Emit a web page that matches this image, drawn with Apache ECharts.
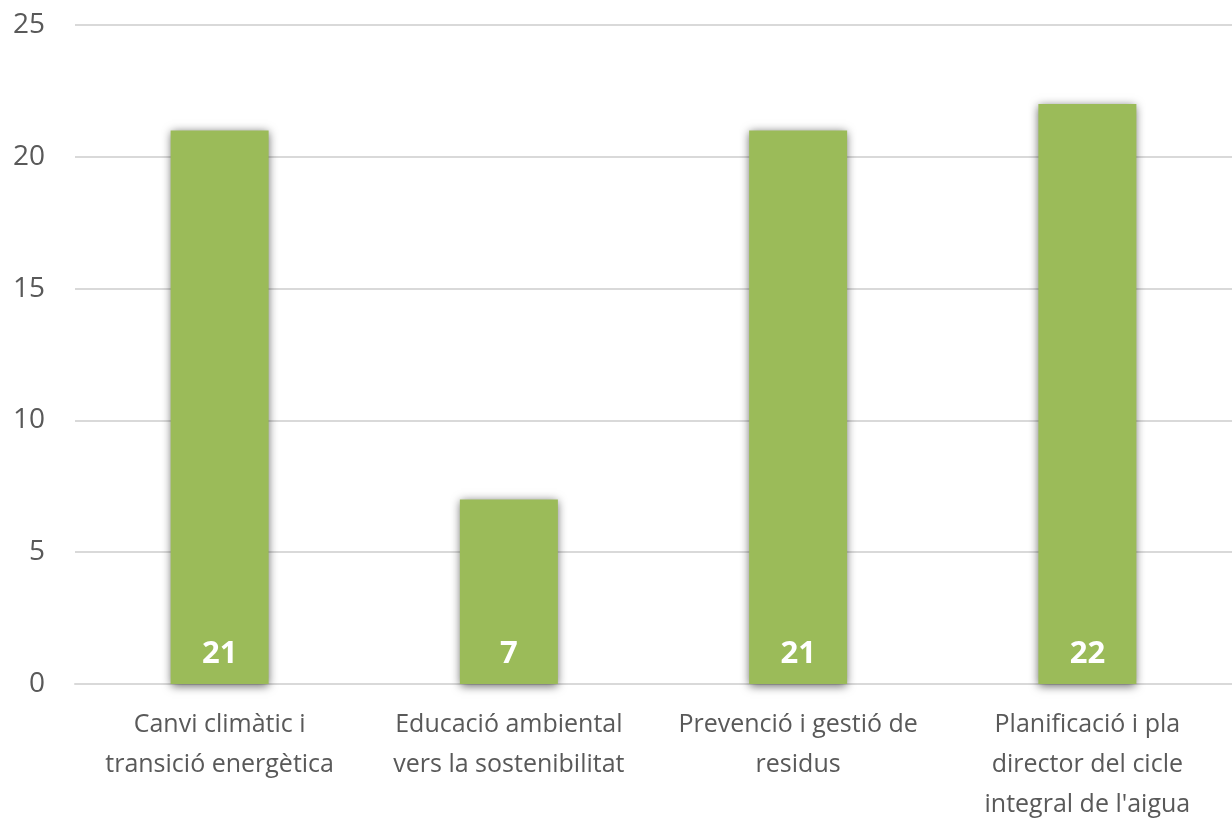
<!DOCTYPE html>
<html>
<head>
<meta charset="utf-8">
<script src="https://cdn.jsdelivr.net/npm/echarts@6/dist/echarts.min.js"></script>
<style>
html,body{margin:0;padding:0;background:#fff;overflow:hidden;}
#chart{width:100vw;height:100vh;}
</style>
</head>
<body>
<div id="chart"></div>
<script>
const categories = [
  "Canvi climàtic i\ntransició energètica",
  "Educació ambiental\nvers la sostenibilitat",
  "Prevenció i gestió de\nresidus",
  "Planificació i pla\ndirector del cicle\nintegral de l'aigua"
];
const values = [21, 7, 21, 22];
const yTicks = { min: 0, max: 25, interval: 5 };

const chart = echarts.init(document.getElementById('chart'));
chart.setOption({
  animation: false,
  grid: { left: 75, right: -13, top: 25, bottom: 134, containLabel: false },
  xAxis: {
    type: 'category',
    data: categories,
    axisLine: { show: true, lineStyle: { color: '#d9d9d9', width: 2 } },
    axisTick: { show: false },
    axisLabel: {
      interval: 0,
      margin: 21,
      color: '#595959',
      fontFamily: 'Open Sans',
      fontSize: 25,
      lineHeight: 40
    }
  },
  yAxis: {
    type: 'value',
    min: yTicks.min, max: yTicks.max, interval: yTicks.interval,
    axisLine: { show: false },
    axisTick: { show: false },
    splitLine: { lineStyle: { color: '#d9d9d9', width: 2 } },
    axisLabel: {
      margin: 30,
      color: '#595959',
      fontFamily: 'Open Sans',
      fontSize: 28
    }
  },
  series: [{
    type: 'bar',
    data: values,
    barWidth: 98,
    itemStyle: {
      color: '#9bbb59',
      shadowColor: 'rgba(0,0,0,0.6)',
      shadowBlur: 9,
      shadowOffsetY: 2
    },
    label: {
      show: true,
      position: 'insideBottom',
      distance: 14,
      color: '#ffffff',
      fontFamily: 'Open Sans',
      fontWeight: 'bold',
      fontSize: 31
    }
  }]
});
</script>
</body>
</html>
